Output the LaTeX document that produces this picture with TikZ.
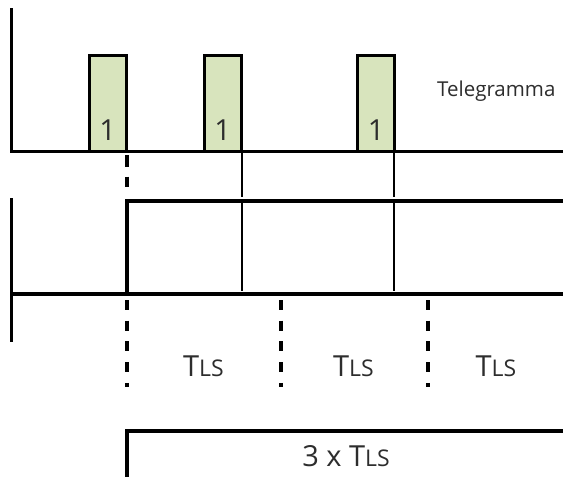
\documentclass[tikz,border=0pt]{standalone}
\usepackage{fontspec}
\setmainfont{Open Sans}
\usepackage{tikz}
\definecolor{pulsegreen}{RGB}{216,228,189}
\definecolor{txtgray}{RGB}{45,45,45}
\newcommand{\tls}{T{\fontsize{23}{24}\selectfont LS}}

\begin{document}
\begin{tikzpicture}[x=1pt,y=-1pt,line join=miter,
    axisline/.style={line width=2.7pt},
    pulse/.style={draw,line width=3pt,fill=pulsegreen},
    level/.style={line width=4pt},
    thinmark/.style={line width=2.3pt},
    tickdash/.style={line width=4pt,dash pattern=on 10pt off 10.7pt},
    lbl/.style={inner sep=0pt,anchor=base,text=txtgray,font=\fontsize{29}{30}\selectfont}]
    \useasboundingbox (0,0) rectangle (563,477);
    % telegram
    \draw[axisline] (11.3,8.3) -- (11.3,151.3) -- (563,151.3);
    \foreach \x/\n in {89/a,204/b,357.5/c}
    {
    \draw[pulse] (\x,151.3) rectangle (\x+37.2,55.7);
    \node[lbl] (one\n) at (\x+18.6,140) {1};
    }
    \node[lbl,anchor=base west,font=\fontsize{20.5}{21}\selectfont] (telegr) at (437,96.7) {Telegramma};
    % output level
    \draw[axisline] (11.3,198) -- (11.3,342);
    \draw[level] (11.3,294) -- (563,294);
    \draw[level] (127,294) -- (127,200.5) -- (563,200.5);
    \foreach \x in {241.8,394.3}
    {
    \draw[thinmark] (\x,151.3) -- (\x,196.5);
    \draw[thinmark] (\x,202.5) -- (\x,290.7);
    }
    \draw[tickdash,dash pattern=on 11.7pt off 10pt] (127,155) -- (127,187.3);
    \foreach \x in {127,281,427.7}
    \draw[tickdash] (\x,300) -- (\x,386.7);
    % time slots
    \foreach \x/\n in {203.5/a,353.5/b,496/c}
    \node[lbl] (tls\n) at (\x,376.7) {\tls};
    \draw[level] (127,477) -- (127,430.5) -- (563,430.5);
    \node[lbl] (total) at (346,466.7) {3 x \tls};
\end{tikzpicture}
\end{document}
